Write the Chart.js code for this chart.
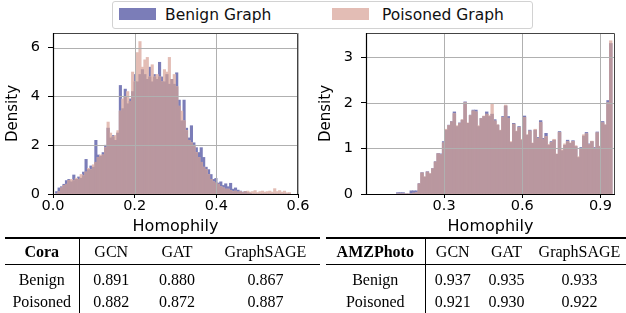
<!DOCTYPE html>
<html>
<head>
<meta charset="utf-8">
<script src="https://cdn.jsdelivr.net/npm/chart.js@4.4.1/dist/chart.umd.min.js"></script>
<style>
  body { margin: 0; background: #fff; }
  #page { position: relative; width: 626px; height: 313px; overflow: hidden; background: #fff; font-family: 'DejaVu Sans'; }
  .plot { position: absolute; top: 0; }
  #legend { position: absolute; left: 112px; top: 1px; width: 421px; height: 28px; border: 1px solid #d2d2d2; border-radius: 3px; box-sizing: border-box; background: #fff; }
  .sw { position: absolute; top: 6px; width: 37px; height: 12px; }
  .lab { position: absolute; top: 4px; font-size: 15.5px; line-height: 18px; color: #111; white-space: nowrap; }
  table { position: absolute; top: 237px; border-collapse: collapse; table-layout: fixed; font-family: 'Liberation Serif', serif; font-size: 16px; color: #000; border-top: 2px solid #000; }
  td, th { padding: 0; text-align: center; font-weight: normal; white-space: nowrap; vertical-align: middle; }
  tr.head th { height: 25px; border-bottom: 1px solid #000; }
  tr.r1 td { height: 22px; padding-top: 4px; }
  tr.r2 td { height: 22px; }
  .first { border-right: 1px solid #000; }
  .bold { font-weight: bold; }
  #tabCora { left: 5px; width: 315px; }
  #tabAmz { left: 326px; width: 300px; }
</style>
</head>
<body>
<div id="page">
  <div class="plot" style="left:0"><canvas id="cora" width="313" height="240"></canvas></div>
  <div class="plot" style="left:313px"><canvas id="amz" width="313" height="240"></canvas></div>
  <div id="legend"></div>
  <table id="tabCora">
    <colgroup><col style="width:74px"><col style="width:64px"><col style="width:68px"><col style="width:109px"></colgroup>
    <tbody></tbody>
  </table>
  <table id="tabAmz">
    <colgroup><col style="width:99px"><col style="width:55px"><col style="width:53px"><col style="width:93px"></colgroup>
    <tbody></tbody>
  </table>
</div>
<script>
const seriesNames = ['Benign Graph', 'Poisoned Graph'];
const benignColor = '#7b7db8';
const poisonedColor = '#e3bdb5';
const overlapColor = '#b9979f';
const gridColor = '#b0b0b0';

// Cora homophily histogram (density), bins of 0.006 starting at 0.006
const coraBinStart = 0.006;
const coraBinWidth = 0.006;
const coraBenign = [
  0.1, 0.25, 0.3, 0.4, 0.55, 0.6, 0.5, 0.78, 0.6, 0.7,
  0.65, 0.9, 1.42, 1.0, 1.15, 1.1, 2.2, 1.6, 1.55, 1.7,
  2.0, 2.7, 2.3, 2.4, 2.2, 2.5, 4.45, 3.5, 4.3, 3.7,
  3.9, 4.2, 4.9, 4.6, 4.9, 5.1, 4.9, 4.7, 5.2, 4.6,
  4.9, 4.7, 5.4, 4.8, 4.6, 4.9, 4.5, 4.7, 4.5, 4.97,
  3.85, 3.0, 3.85, 2.7, 2.3, 2.8, 2.1, 1.9, 1.7, 1.9,
  1.5, 1.1, 1.0, 0.8, 0.6, 0.64, 0.45, 0.5, 0.35, 0.42,
  0.3, 0.44, 0.2, 0.25, 0.16, 0.12, 0.08, 0.1, 0.05, 0.03,
  0, 0, 0, 0, 0, 0, 0, 0, 0, 0,
  0, 0, 0, 0, 0, 0
];
const coraPoisoned = [
  0, 0.1, 0.25, 0.35, 0.4, 0.55, 0.6, 0.55, 0.65, 0.6,
  0.8, 0.75, 0.9, 1.05, 1.0, 1.2, 1.3, 1.5, 1.6, 1.6,
  1.9, 2.95, 2.5, 2.35, 2.4, 2.6, 3.4, 3.9, 4.0, 4.2,
  3.8, 5.0, 4.6, 5.8, 6.25, 5.2, 5.5, 5.6, 4.8, 5.3,
  4.8, 4.9, 4.8, 4.6, 5.1, 5.0, 5.6, 4.7, 4.9, 4.4,
  3.6, 3.4, 3.0, 2.6, 2.2, 2.1, 2.0, 1.7, 1.5, 1.3,
  1.1, 1.0, 0.8, 0.6, 0.5, 0.45, 0.4, 0.3, 0.25, 0.2,
  0.2, 0.15, 0.1, 0.12, 0.08, 0.1, 0.06, 0.1, 0.12, 0.08,
  0.1, 0.14, 0.06, 0.1, 0.12, 0.08, 0.1, 0.12, 0.08, 0.22,
  0.1, 0.14, 0.08, 0.12, 0.05, 0.06
];
const coraXTicks = [0, 0.2, 0.4, 0.6];
const coraYTicks = [0, 2, 4, 6];

// AMZPhoto homophily histogram (density)
const amzBinStart = 0.1168;
const amzBinWidth = 0.01035;
const amzBenign = [
  0.03, 0.03, 0.03, 0, 0, 0.07, 0.07, 0.07,
  0.23, 0.47, 0.37, 0.49, 0.44, 0.56, 0.71, 0.89, 0.88, 1.15,
  1.40, 1.51, 1.59, 1.80, 1.48, 1.56, 1.62, 2.02, 1.55, 1.73,
  1.84, 1.84, 1.48, 1.66, 1.70, 1.80, 1.70, 1.75, 1.63, 1.51,
  1.39, 1.70, 1.93, 1.70, 1.13, 1.55, 1.37, 1.48, 1.18, 1.71,
  1.29, 1.40, 1.11, 1.40, 1.24, 1.61, 1.22, 1.33, 1.07, 1.15,
  1.18, 0.87, 1.37, 0.95, 1.07, 1.18, 1.11, 1.17, 1.04, 0.80,
  1.02, 1.27, 1.35, 1.10, 1.15, 1.02, 1.36, 1.04, 1.59, 1.51,
  2.05, 3.30
];
const amzPoisoned = [
  0, 0, 0, 0, 0, 0, 0.02, 0.03,
  0.22, 0.46, 0.38, 0.48, 0.45, 0.55, 0.70, 0.88, 0.86, 1.12,
  1.42, 1.50, 1.58, 1.76, 1.50, 1.55, 1.63, 2.00, 1.56, 1.72,
  1.82, 1.80, 1.50, 1.65, 1.71, 1.75, 1.72, 1.97, 1.60, 1.52,
  1.40, 1.68, 1.95, 1.66, 1.15, 1.53, 1.38, 1.46, 1.20, 1.68,
  1.30, 1.38, 1.12, 1.42, 1.22, 1.57, 1.20, 1.26, 1.09, 1.13,
  1.20, 0.88, 1.35, 0.97, 1.10, 1.15, 1.12, 1.15, 1.06, 0.82,
  1.00, 1.30, 1.32, 1.08, 1.16, 1.00, 1.34, 1.05, 1.56, 1.52,
  2.00, 3.36
];
const amzXTicks = [0.3, 0.6, 0.9];
const amzYTicks = [0, 1, 2, 3];

// accuracy tables
const tableModels = ['GCN', 'GAT', 'GraphSAGE'];
const rowLabels = ['Benign', 'Poisoned'];
const coraBenignAcc = [0.891, 0.880, 0.867];
const coraPoisonedAcc = [0.882, 0.872, 0.887];
const amzBenignAcc = [0.937, 0.935, 0.933];
const amzPoisonedAcc = [0.921, 0.930, 0.922];

Chart.defaults.font.family = 'DejaVu Sans';
Chart.defaults.color = '#000';

// matplotlib draws the grid above the bars, then the spines
const framePlugin = {
    id: 'frame',
    afterDatasetsDraw(chart) {
        const { ctx, chartArea: a, scales } = chart;
        ctx.save();
        ctx.strokeStyle = gridColor;
        ctx.lineWidth = 1;
        ctx.beginPath();
        scales.x.ticks.forEach(t => {
            const px = Math.round(scales.x.getPixelForValue(t.value)) + 0.5;
            ctx.moveTo(px, a.top);
            ctx.lineTo(px, a.bottom);
        });
        scales.y.ticks.forEach(t => {
            const py = Math.round(scales.y.getPixelForValue(t.value)) + 0.5;
            ctx.moveTo(a.left, py);
            ctx.lineTo(a.right, py);
        });
        ctx.stroke();

        ctx.strokeStyle = '#444';
        ctx.beginPath();
        ctx.moveTo(a.left, a.top + 0.5);
        ctx.lineTo(a.right - 0.5, a.top + 0.5);
        ctx.lineTo(a.right - 0.5, a.bottom);
        ctx.stroke();
        ctx.strokeStyle = '#000';
        ctx.lineWidth = 1.2;
        ctx.beginPath();
        ctx.moveTo(a.left + 0.5, a.top);
        ctx.lineTo(a.left + 0.5, a.bottom + 0.5);
        ctx.lineTo(a.right, a.bottom + 0.5);
        ctx.stroke();
        ctx.restore();
    }
};

function toPoints(start, width, values) {
    return values.map((v, i) => ({ x: start + (i + 0.5) * width, y: v }));
}

function buildHistogram(canvasId, start, width, benign, poisoned, xTicks, yTicks, xMax, yMax, padRight) {
    const overlap = benign.map((v, i) => Math.min(v, poisoned[i]));
    const barStyle = { grouped: false, barPercentage: 1, categoryPercentage: 1, borderWidth: 0 };
    new Chart(document.getElementById(canvasId), {
        type: 'bar',
        data: {
            datasets: [
                Object.assign({ label: 'overlap', data: toPoints(start, width, overlap), backgroundColor: overlapColor, order: 0 }, barStyle),
                Object.assign({ label: seriesNames[1], data: toPoints(start, width, poisoned), backgroundColor: poisonedColor, order: 1 }, barStyle),
                Object.assign({ label: seriesNames[0], data: toPoints(start, width, benign), backgroundColor: benignColor, order: 2 }, barStyle)
            ]
        },
        options: {
            responsive: false,
            animation: false,
            devicePixelRatio: 1,
            layout: { padding: { top: 33, right: padRight, left: 0, bottom: 0 } },
            plugins: { legend: { display: false }, tooltip: { enabled: false } },
            scales: {
                x: {
                    type: 'linear',
                    min: 0,
                    max: xMax,
                    offset: false,
                    afterFit: s => { s.height = 46; },
                    afterBuildTicks: s => { s.ticks = xTicks.map(v => ({ value: v })); },
                    grid: { offset: false, drawOnChartArea: false, tickLength: 4, tickColor: '#000' },
                    border: { display: false },
                    ticks: { font: { size: 14.5 }, color: '#000', padding: 0, maxRotation: 0, autoSkip: false, callback: v => v.toFixed(1) },
                    title: { display: true, text: 'Homophily', font: { size: 16 }, color: '#000', padding: { top: 0, bottom: 4 } }
                },
                y: {
                    min: 0,
                    max: yMax,
                    afterFit: s => { s.width = 53; },
                    afterBuildTicks: s => { s.ticks = yTicks.map(v => ({ value: v })); },
                    grid: { drawOnChartArea: false, tickLength: 5, tickColor: '#000' },
                    border: { display: false },
                    ticks: { font: { size: 14.5 }, color: '#000', padding: 8, callback: v => String(v) },
                    title: { display: true, text: 'Density', font: { size: 15 }, color: '#000', padding: { top: 4, bottom: 0 } }
                }
            }
        },
        plugins: [framePlugin]
    });
}

function buildLegend() {
    const legend = document.getElementById('legend');
    const swatchLeft = [6, 219];
    const textLeft = [52, 269];
    [benignColor, poisonedColor].forEach((c, i) => {
        const sw = document.createElement('div');
        sw.className = 'sw';
        sw.style.left = swatchLeft[i] + 'px';
        sw.style.background = c;
        const lab = document.createElement('div');
        lab.className = 'lab';
        lab.style.left = textLeft[i] + 'px';
        lab.textContent = seriesNames[i];
        legend.appendChild(sw);
        legend.appendChild(lab);
    });
}

function buildTable(id, name, benignAcc, poisonedAcc) {
    const body = document.querySelector('#' + id + ' tbody');
    let html = '<tr class="head"><th class="first bold">' + name + '</th>' +
        tableModels.map(m => '<th>' + m + '</th>').join('') + '</tr>';
    [benignAcc, poisonedAcc].forEach((row, r) => {
        html += '<tr class="r' + (r + 1) + '"><td class="first">' + rowLabels[r] + '</td>' +
            row.map(v => '<td>' + v.toFixed(3) + '</td>').join('') + '</tr>';
    });
    body.innerHTML = html;
}

document.addEventListener('DOMContentLoaded', () => {
    buildHistogram('cora', coraBinStart, coraBinWidth, coraBenign, coraPoisoned, coraXTicks, coraYTicks, 0.6, 6.6, 15);
    buildHistogram('amz', amzBinStart, amzBinWidth, amzBenign, amzPoisoned, amzXTicks, amzYTicks, 0.956, 3.53, 11);
    buildLegend();
    buildTable('tabCora', 'Cora', coraBenignAcc, coraPoisonedAcc);
    buildTable('tabAmz', 'AMZPhoto', amzBenignAcc, amzPoisonedAcc);
});
</script>
</body>
</html>
